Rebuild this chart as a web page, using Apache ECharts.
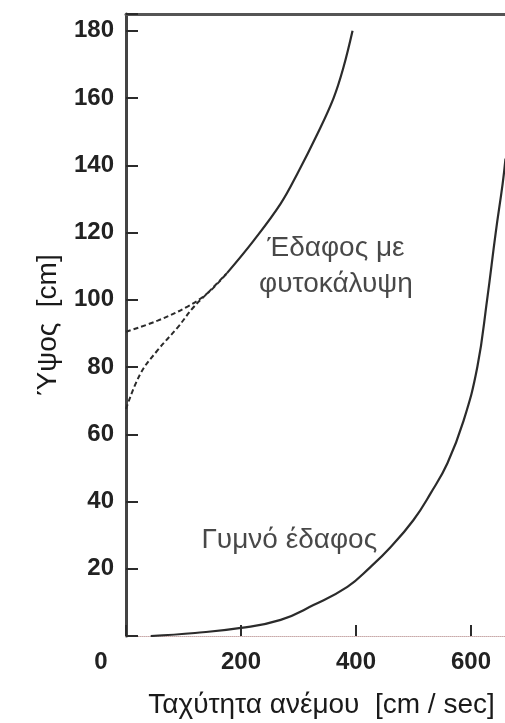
<!DOCTYPE html>
<html>
<head>
<meta charset="utf-8">
<script src="https://cdn.jsdelivr.net/npm/echarts@6/dist/echarts.min.js"></script>
<style>
  html, body { margin: 0; padding: 0; background: #fff; }
  #chart { width: 505px; height: 723px; }
</style>
</head>
<body>
<div id="chart"></div>
<script>
// wind speed [cm/sec] vs height [cm]
const xTicks = [0, 200, 400, 600];
const yTicks = [20, 40, 60, 80, 100, 120, 140, 160, 180];

// vegetated ground, solid part above the canopy
const vegSolid = [[176, 108], [222, 117.6], [269, 128.6], [298, 137.5], [333, 149.4],
    [361, 160], [378, 169], [394, 180]];
// dashed extrapolations down into the canopy
const vegDashUpper = [[0, 90.5], [55, 93.8], [107, 98], [142, 102], [176, 108]];
const vegDashLower = [[0, 67.5], [25, 78], [55, 85], [90, 91.8], [117, 97.7], [142, 102], [176, 108]];
// bare ground
const bareSoil = [[43, 0], [120, 0.9], [200, 2.4], [269, 4.8], [326, 9.2], [385, 14.6],
    [425, 20.5], [460, 26.4], [500, 34.5], [530, 42.5], [559, 51.4], [587, 64],
    [611, 80], [628, 100], [643, 120], [655, 134.5], [660, 142]];

// curve labels
const notes = [
    { name: 'Έδαφος με\nφυτοκάλυψη', value: [365, 110] },
    { name: 'Γυμνό έδαφος', value: [284, 28.5] }
];

const ink = '#2b2b2b';
const font = 'Liberation Sans, Arial, sans-serif';

var myChart = echarts.init(document.getElementById('chart'));

const option = {
    backgroundColor: '#fff',
    animation: false,
    grid: { left: 126, top: 14, bottom: 87, width: 391, containLabel: false, outerBoundsMode: 'none' },
    xAxis: [{
        type: 'value',
        min: 0, max: 680, interval: 200,
        name: 'Ταχύτητα ανέμου  [cm / sec]',
        nameLocation: 'middle',
        nameGap: 55,
        nameTextStyle: { fontFamily: font, fontSize: 28, color: '#1a1a1a' },
        axisLine: { lineStyle: { color: '#c9a9a9', width: 1, type: 'dotted' } },
        axisTick: { inside: true, length: 11, lineStyle: { color: ink, width: 2 } },
        splitLine: { show: false },
        axisLabel: {
            margin: 14,
            fontFamily: font, fontSize: 24, fontWeight: 'bold', color: '#222',
            formatter: function (v) {
                if (v === 0) return '{z|0}';
                return xTicks.indexOf(v) >= 0 ? String(v) : '';
            },
            rich: { z: { fontFamily: font, fontSize: 24, fontWeight: 'bold', color: '#222', padding: [0, 50, 0, 0] } }
        }
    }, {
        // top frame line
        type: 'value', position: 'top',
        min: 0, max: 680,
        axisLine: { lineStyle: { color: '#555', width: 3 } },
        axisTick: { show: false }, axisLabel: { show: false }, splitLine: { show: false }
    }],
    yAxis: {
        type: 'value',
        min: 0, max: 185, interval: 20,
        name: 'Ύψος  [cm]',
        nameLocation: 'middle',
        nameGap: 64,
        nameTextStyle: { fontFamily: font, fontSize: 28, color: '#1a1a1a' },
        axisLine: { lineStyle: { color: '#444', width: 3 } },
        axisTick: { inside: true, length: 12, lineStyle: { color: ink, width: 2 } },
        splitLine: { show: false },
        axisLabel: {
            margin: 12,
            fontFamily: font, fontSize: 24, fontWeight: 'bold', color: '#222',
            formatter: function (v) { return yTicks.indexOf(v) >= 0 ? String(v) : ''; }
        }
    },
    series: [
        {
            type: 'line', data: vegSolid, smooth: 0.4, showSymbol: false,
            lineStyle: { color: ink, width: 2.2 }
        },
        {
            type: 'line', data: vegDashUpper, smooth: 0.4, showSymbol: false,
            lineStyle: { color: ink, width: 2, type: [5, 3] }
        },
        {
            type: 'line', data: vegDashLower, smooth: 0.4, showSymbol: false,
            lineStyle: { color: ink, width: 2, type: [5, 3] }
        },
        {
            type: 'line', data: bareSoil, smooth: 0.45, showSymbol: false,
            lineStyle: { color: ink, width: 2.2 }
        },
        {
            type: 'scatter', data: notes, symbolSize: 1,
            itemStyle: { color: 'rgba(0,0,0,0)' },
            label: {
                show: true, position: 'inside',
                formatter: function (p) { return p.name; },
                fontFamily: font, fontSize: 28, lineHeight: 36, color: '#1a1a1a', align: 'center'
            }
        }
    ]
};

myChart.setOption(option);
</script>
</body>
</html>
